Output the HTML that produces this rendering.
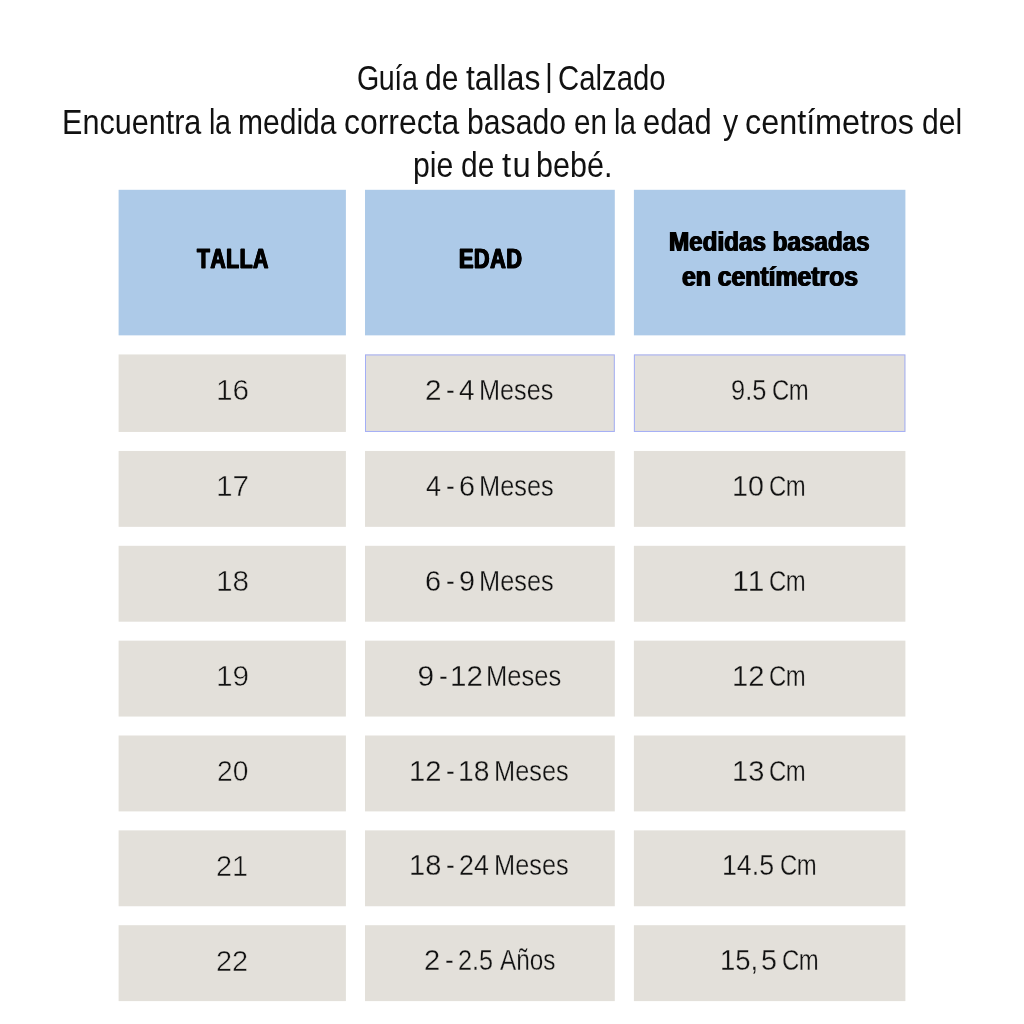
<!DOCTYPE html>
<html lang="es"><head><meta charset="utf-8"><title>Guía de tallas | Calzado</title>
<style>
html,body{margin:0;padding:0;background:#fff;}
body{width:1024px;height:1024px;position:relative;overflow:hidden;font-family:"Liberation Sans",sans-serif;color:#000;}
.t{position:absolute;margin:0;padding:0;white-space:pre;line-height:1;transform-origin:0 0;font-weight:400;display:block;}
.w{position:absolute;top:0;white-space:pre;transform-origin:0 0;display:block;}
.title{color:#111;font-size:34.5px;}
.h{font-weight:700;color:#000;-webkit-text-stroke:1px #000;text-shadow:0.8px 0 0 #000,-0.8px 0 0 #000;letter-spacing:0.7px;font-kerning:none;}
.h2{font-weight:700;color:#000;-webkit-text-stroke:0.2px #000;text-shadow:0.75px 0 0 #000,-0.75px 0 0 #000;}
.d{color:#111;-webkit-text-stroke:0.3px #e3e0da;}
.n{color:#111;-webkit-text-stroke:0.5px #e3e0da;}
.bg{position:absolute;left:0;top:0;}
</style></head><body>
<svg class="bg" width="1024" height="1024" viewBox="0 0 1024 1024">
<rect x="118.6" y="189.8" width="227.3" height="145.55" fill="#adcae8"/>
<rect x="365" y="189.8" width="249.8" height="145.55" fill="#adcae8"/>
<rect x="633.9" y="189.8" width="271.5" height="145.55" fill="#adcae8"/>
<rect x="118.6" y="354.45" width="227.3" height="77.5" fill="#e3e0da"/>
<rect x="365" y="354.45" width="249.8" height="77.5" fill="#e3e0da"/>
<rect x="365.5" y="354.95" width="248.8" height="76.5" fill="none" stroke="#a3aef6" stroke-width="1"/>
<rect x="633.9" y="354.45" width="271.5" height="77.5" fill="#e3e0da"/>
<rect x="634.4" y="354.95" width="270.5" height="76.5" fill="none" stroke="#a3aef6" stroke-width="1"/>
<rect x="118.6" y="450.95" width="227.3" height="75.9" fill="#e3e0da"/>
<rect x="365" y="450.95" width="249.8" height="75.9" fill="#e3e0da"/>
<rect x="633.9" y="450.95" width="271.5" height="75.9" fill="#e3e0da"/>
<rect x="118.6" y="545.8" width="227.3" height="75.9" fill="#e3e0da"/>
<rect x="365" y="545.8" width="249.8" height="75.9" fill="#e3e0da"/>
<rect x="633.9" y="545.8" width="271.5" height="75.9" fill="#e3e0da"/>
<rect x="118.6" y="640.65" width="227.3" height="75.9" fill="#e3e0da"/>
<rect x="365" y="640.65" width="249.8" height="75.9" fill="#e3e0da"/>
<rect x="633.9" y="640.65" width="271.5" height="75.9" fill="#e3e0da"/>
<rect x="118.6" y="735.5" width="227.3" height="75.9" fill="#e3e0da"/>
<rect x="365" y="735.5" width="249.8" height="75.9" fill="#e3e0da"/>
<rect x="633.9" y="735.5" width="271.5" height="75.9" fill="#e3e0da"/>
<rect x="118.6" y="830.35" width="227.3" height="75.9" fill="#e3e0da"/>
<rect x="365" y="830.35" width="249.8" height="75.9" fill="#e3e0da"/>
<rect x="633.9" y="830.35" width="271.5" height="75.9" fill="#e3e0da"/>
<rect x="118.6" y="925.2" width="227.3" height="75.9" fill="#e3e0da"/>
<rect x="365" y="925.2" width="249.8" height="75.9" fill="#e3e0da"/>
<rect x="633.9" y="925.2" width="271.5" height="75.9" fill="#e3e0da"/>
</svg>
<h1 class="t title" style="left:0;top:61px;width:1024px;height:34.5px;font-size:34.5px"><span class="w" style="left:356.62px;transform:scaleX(0.8300);letter-spacing:-0.500px">Guía</span> <span class="w" style="left:425.03px;transform:scaleX(0.8694)">de</span> <span class="w" style="left:465.52px;transform:scaleX(0.9227)">tallas</span> <span class="w" style="left:545.14px;top:-1.5px;transform:scale(0.8800,0.91)">|</span> <span class="w" style="left:558.48px;transform:scaleX(0.8500)">Calzado</span></h1>
<p class="t title" style="left:0;top:105px;width:1024px;height:34.5px;font-size:34.5px"><span class="w" style="left:61.50px;transform:scaleX(0.8862)">Encuentra</span> <span class="w" style="left:208.62px;transform:scaleX(0.8300);letter-spacing:-0.500px">la</span> <span class="w" style="left:238.06px;transform:scaleX(0.8706)">medida</span> <span class="w" style="left:344.11px;transform:scaleX(0.9248)">correcta</span> <span class="w" style="left:466.75px;transform:scaleX(0.8745)">basado</span> <span class="w" style="left:574.40px;transform:scaleX(0.8589)">en</span> <span class="w" style="left:614.02px;transform:scaleX(0.8300);letter-spacing:-0.500px">la</span> <span class="w" style="left:643.15px;transform:scaleX(0.8941)">edad</span>  <span class="w" style="left:723.30px;transform:scaleX(0.8800)">y</span> <span class="w" style="left:745.09px;transform:scaleX(0.9375)">centímetros</span> <span class="w" style="left:921.83px;transform:scaleX(0.8721)">del</span></p>
<p class="t title" style="left:0;top:148px;width:1024px;height:34.5px;font-size:34.5px"><span class="w" style="left:412.85px;transform:scaleX(0.8755)">pie</span> <span class="w" style="left:460.53px;transform:scaleX(0.8667)">de</span> <span class="w" style="left:501.98px;transform:scaleX(0.9500);letter-spacing:1.400px">tu</span> <span class="w" style="left:536.43px;transform:scaleX(0.8844)">bebé.</span></p>
<span class="t h" style="left:196.88px;top:245px;font-size:27.2px;transform:scaleX(0.7763)">TALLA</span>
<span class="t h" style="left:458.71px;top:245px;font-size:27.2px;transform:scaleX(0.7949)">EDAD</span>
<span class="t h2" style="left:668.90px;top:229px;font-size:26.8px;transform:scaleX(0.9041)">Medidas basadas</span>
<span class="t h2" style="left:681.70px;top:264px;font-size:26.8px;transform:scaleX(0.9234)">en centímetros</span>
<span class="t n" style="left:215.52px;top:375px;font-size:29.9px;transform:scaleX(0.9947)">16</span>
<span class="t n" style="left:215.52px;top:471px;font-size:29.9px;transform:scaleX(0.9972)">17</span>
<span class="t n" style="left:215.52px;top:566px;font-size:29.9px;transform:scaleX(0.9952)">18</span>
<span class="t n" style="left:215.52px;top:661px;font-size:29.9px;transform:scaleX(0.9967)">19</span>
<span class="t n" style="left:216.51px;top:756px;font-size:29.9px;transform:scaleX(0.9435)">20</span>
<span class="t n" style="left:216.47px;top:851px;font-size:29.9px;transform:scaleX(0.9662)">21</span>
<span class="t n" style="left:216.47px;top:946px;font-size:29.9px;transform:scaleX(0.9668)">22</span>
<div class="t d" style="left:0;top:375px;width:1024px;height:29.9px;font-size:29.9px"><span class="w" style="left:425.20px;transform:scaleX(0.9943)">2</span> <span class="w" style="left:445.71px;transform:scaleX(0.8800)">-</span> <span class="w" style="left:459.46px;transform:scaleX(0.9338)">4</span> <span class="w" style="left:479.05px;transform:scaleX(0.8454)">Meses</span></div>
<div class="t d" style="left:0;top:375px;width:1024px;height:29.9px;font-size:29.9px"><span class="w" style="left:730.70px;transform:scaleX(0.8506)">9.5</span> <span class="w" style="left:772.05px;transform:scaleX(0.8000);letter-spacing:-0.500px">Cm</span></div>
<div class="t d" style="left:0;top:471px;width:1024px;height:29.9px;font-size:29.9px"><span class="w" style="left:425.68px;transform:scaleX(0.9065)">4</span> <span class="w" style="left:445.56px;transform:scaleX(0.8800)">-</span> <span class="w" style="left:459.15px;transform:scaleX(0.9629)">6</span> <span class="w" style="left:478.84px;transform:scaleX(0.8489)">Meses</span></div>
<div class="t d" style="left:0;top:471px;width:1024px;height:29.9px;font-size:29.9px"><span class="w" style="left:732.06px;transform:scaleX(0.9576)">10</span> <span class="w" style="left:769.10px;transform:scaleX(0.8000);letter-spacing:-0.500px">Cm</span></div>
<div class="t d" style="left:0;top:566px;width:1024px;height:29.9px;font-size:29.9px"><span class="w" style="left:424.74px;transform:scaleX(0.9666)">6</span> <span class="w" style="left:445.91px;transform:scaleX(0.8800)">-</span> <span class="w" style="left:459.22px;transform:scaleX(0.9618)">9</span> <span class="w" style="left:478.84px;transform:scaleX(0.8489)">Meses</span></div>
<div class="t d" style="left:0;top:566px;width:1024px;height:29.9px;font-size:29.9px"><span class="w" style="left:732.25px;transform:scaleX(1.0000);letter-spacing:1.035px">11</span> <span class="w" style="left:769.10px;transform:scaleX(0.8000);letter-spacing:-0.500px">Cm</span></div>
<div class="t d" style="left:0;top:661px;width:1024px;height:29.9px;font-size:29.9px"><span class="w" style="left:417.38px;transform:scaleX(1.0000)">9</span> <span class="w" style="left:438.76px;transform:scaleX(0.8800)">-</span> <span class="w" style="left:450.18px;transform:scaleX(0.9882)">12</span> <span class="w" style="left:485.93px;transform:scaleX(0.8548)">Meses</span></div>
<div class="t d" style="left:0;top:661px;width:1024px;height:29.9px;font-size:29.9px"><span class="w" style="left:732.11px;transform:scaleX(0.9743)">12</span> <span class="w" style="left:769.10px;transform:scaleX(0.8000);letter-spacing:-0.500px">Cm</span></div>
<div class="t d" style="left:0;top:756px;width:1024px;height:29.9px;font-size:29.9px"><span class="w" style="left:408.91px;transform:scaleX(0.9761)">12</span> <span class="w" style="left:445.96px;transform:scaleX(0.8800)">-</span> <span class="w" style="left:458.19px;transform:scaleX(0.9444)">18</span> <span class="w" style="left:494.04px;transform:scaleX(0.8489)">Meses</span></div>
<div class="t d" style="left:0;top:756px;width:1024px;height:29.9px;font-size:29.9px"><span class="w" style="left:732.12px;transform:scaleX(0.9722)">13</span> <span class="w" style="left:769.10px;transform:scaleX(0.8000);letter-spacing:-0.500px">Cm</span></div>
<div class="t d" style="left:0;top:850px;width:1024px;height:29.9px;font-size:29.9px"><span class="w" style="left:409.02px;transform:scaleX(0.9703)">18</span> <span class="w" style="left:445.96px;transform:scaleX(0.8800)">-</span> <span class="w" style="left:459.07px;transform:scaleX(0.8964)">24</span> <span class="w" style="left:494.04px;transform:scaleX(0.8489)">Meses</span></div>
<div class="t d" style="left:0;top:850px;width:1024px;height:29.9px;font-size:29.9px"><span class="w" style="left:721.82px;transform:scaleX(0.8944)">14.5</span> <span class="w" style="left:779.70px;transform:scaleX(0.8000);letter-spacing:-0.500px">Cm</span></div>
<div class="t d" style="left:0;top:945px;width:1024px;height:29.9px;font-size:29.9px"><span class="w" style="left:424.34px;transform:scaleX(0.9718)">2</span> <span class="w" style="left:445.31px;transform:scaleX(0.8800)">-</span> <span class="w" style="left:458.36px;transform:scaleX(0.8442)">2.5</span> <span class="w" style="left:499.68px;transform:scaleX(0.8147)">Años</span></div>
<div class="t d" style="left:0;top:945px;width:1024px;height:29.9px;font-size:29.9px"><span class="w" style="left:719.76px;transform:scaleX(0.9191)">15,</span> <span class="w" style="left:761.02px;transform:scaleX(0.9592)">5</span> <span class="w" style="left:782.00px;transform:scaleX(0.8000);letter-spacing:-0.500px">Cm</span></div>
</body></html>
